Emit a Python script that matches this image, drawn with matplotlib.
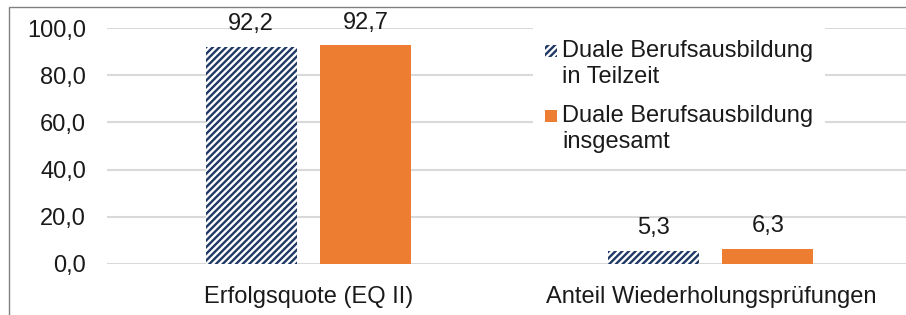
import matplotlib.pyplot as plt
from matplotlib.patches import Rectangle
import numpy as np

plt.rcParams["font.family"] = ["Liberation Sans", "DejaVu Sans"]
plt.rcParams["hatch.linewidth"] = 1.7

categories = ["Erfolgsquote (EQ II)", "Anteil Wiederholungsprüfungen"]
series_names = ["Duale Berufsausbildung\nin Teilzeit", "Duale Berufsausbildung\ninsgesamt"]
teilzeit = [92.2, 5.3]
insgesamt = [92.7, 6.3]
yticks = [0, 20, 40, 60, 80, 100]

navy = "#1F3864"
orange = "#ED7D31"
grid_c = "#D9D9D9"
txt_c = "#1a1a1a"
FS = 17
W, H = 906, 315
HATCH = "/////"


def de(v):
    return f"{v:.1f}".replace(".", ",")


def fx(px):
    return px / W


def fy(py):
    return 1 - py / H


fig = plt.figure(figsize=(W / 100, H / 100), dpi=100)
ax = fig.add_axes([fx(107), fy(263.7), 1 - fx(107), 235.4 / H])

x = np.arange(len(categories))
w = 0.226
off = 0.142
b1 = ax.bar(x - off, teilzeit, w, facecolor="white", edgecolor=navy,
            hatch=HATCH, linewidth=0)
b2 = ax.bar(x + off, insgesamt, w, color=orange, linewidth=0)

for bars, vals in ((b1, teilzeit), (b2, insgesamt)):
    for r, v in zip(bars, vals):
        ax.text(r.get_x() + r.get_width() / 2, v + 7.2, de(v), ha="center",
                va="baseline", fontsize=FS, color=txt_c)

ax.set_xlim(-0.5, 1.485)
ax.set_ylim(0, 100)
ax.set_yticks(yticks)
ax.set_yticklabels([de(t) for t in yticks], fontsize=FS, color=txt_c)
ax.set_xticks(x)
ax.set_xticklabels(categories, fontsize=FS, color=txt_c)
ax.tick_params(length=0)
ax.tick_params(axis="y", pad=15)
ax.tick_params(axis="x", pad=16)
ax.yaxis.grid(True, color=grid_c, linewidth=1.5)
ax.set_axisbelow(True)
for s in ax.spines.values():
    s.set_visible(False)

# legend box (white background hides gridlines behind it)
ax.add_patch(Rectangle((fx(533), fy(155)), fx(825) - fx(533), 140 / H,
                       transform=fig.transFigure, facecolor="white",
                       edgecolor="none", zorder=1))

leg_base = [56.7, 121.7]
line_step = 26.6
handles = [dict(facecolor="white", edgecolor=navy, hatch=HATCH, linewidth=0),
           dict(facecolor=orange, edgecolor="none", linewidth=0)]
for name, base, hkw in zip(series_names, leg_base, handles):
    fig.patches.append(Rectangle((fx(545), fy(base)), 12 / W, 12 / H,
                                 transform=fig.transFigure, **hkw))
    for i, line in enumerate(name.split("\n")):
        fig.text(fx(562), fy(base + i * line_step), line, fontsize=FS,
                 color=txt_c, va="baseline", ha="left")

# outer frame (left and top edges visible)
fig.patches.append(Rectangle((fx(9), -0.1), 1.2, fy(7) + 0.1,
                             transform=fig.transFigure, fill=False,
                             edgecolor="#808080", linewidth=1))

fig.savefig("out.png", dpi=100)
